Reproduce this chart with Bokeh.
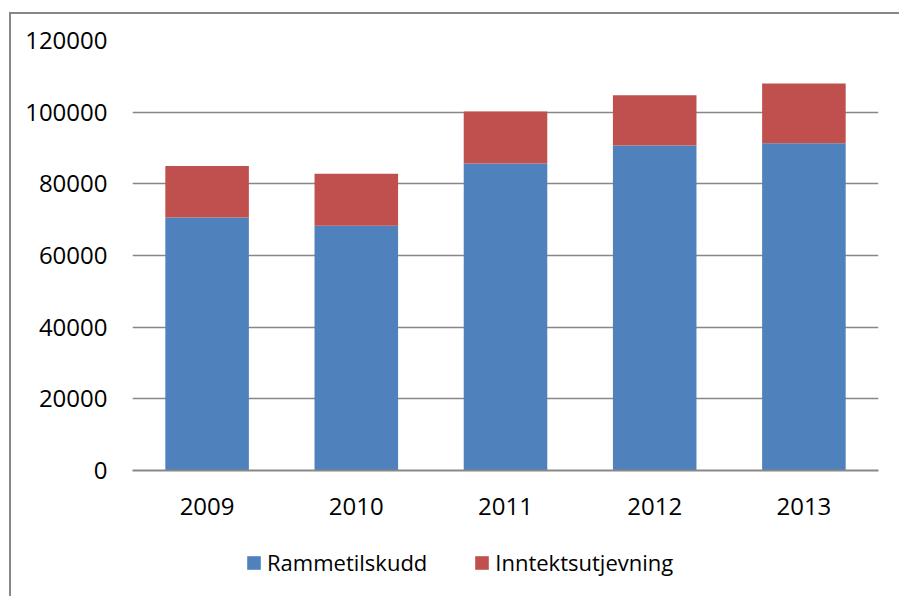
from bokeh.plotting import figure
from bokeh.layouts import column
from bokeh.models import FixedTicker, Legend, LegendItem, NumeralTickFormatter, ColumnDataSource
from bokeh.embed import file_html
from bokeh.resources import INLINE

years = ["2009", "2010", "2011", "2012", "2013"]
rammetilskudd = [70600, 68300, 85700, 90700, 91300]
inntektsutjevning = [14400, 14500, 14500, 14000, 16700]
y_ticks = [0, 20000, 40000, 60000, 80000, 100000, 120000]
series = ["Rammetilskudd", "Inntektsutjevning"]
colors = ["#4F81BD", "#C0504D"]

FONT = "Open Sans"
GRID = "#878787"

source = ColumnDataSource({"years": years, "Rammetilskudd": rammetilskudd,
                           "Inntektsutjevning": inntektsutjevning})

p = figure(
    x_range=years, y_range=(0, 120000),
    frame_width=746, frame_height=430,
    min_border_left=132, min_border_right=21, min_border_top=40, min_border_bottom=62,
    output_backend="svg", toolbar_location=None,
)
p.outline_line_color = None
p.background_fill_color = "white"
p.border_fill_alpha = 0

p.vbar_stack(series, x="years", width=0.56, color=colors, source=source, line_width=0)

p.x_range.range_padding = 0
p.xgrid.grid_line_color = None
p.ygrid.grid_line_color = GRID
p.ygrid.grid_line_width = 1.5
p.yaxis.ticker = FixedTicker(ticks=y_ticks)
p.yaxis.formatter = NumeralTickFormatter(format="0")
p.yaxis.axis_line_color = None
p.yaxis.major_tick_line_color = None
p.yaxis.minor_tick_line_color = None
p.yaxis.major_tick_out = 0
p.yaxis.major_label_standoff = 25
p.yaxis.major_label_text_font = FONT
p.yaxis.major_label_text_font_size = "24px"
p.yaxis.major_label_text_color = "black"

p.xaxis.axis_line_color = GRID
p.xaxis.axis_line_width = 2
p.xaxis.major_tick_line_color = None
p.xaxis.minor_tick_line_color = None
p.xaxis.major_tick_out = 0
p.xaxis.major_label_standoff = 27
p.xaxis.major_label_text_font = FONT
p.xaxis.major_label_text_font_size = "24px"
p.xaxis.major_label_text_color = "black"

# legend strip below the chart; its renderers only feed the legend swatches
q = figure(
    x_range=(0, 1), y_range=(1e6, 2e6),
    frame_width=899, frame_height=64,
    min_border_left=0, min_border_right=0, min_border_top=0, min_border_bottom=0,
    x_axis_type=None, y_axis_type=None,
    output_backend="svg", toolbar_location=None,
)
q.outline_line_color = None
q.background_fill_alpha = 0
q.border_fill_alpha = 0
q.xgrid.grid_line_color = None
q.ygrid.grid_line_color = None
lr = q.vbar_stack(series, x="years", width=0.56, color=colors, source=source, line_width=0)

legend = Legend(
    items=[LegendItem(label=series[0], renderers=[lr[0]]),
           LegendItem(label=series[1], renderers=[lr[1]])],
    orientation="horizontal", location=(245, 19),
    padding=0, margin=0, spacing=46, label_standoff=5,
    glyph_width=17, glyph_height=17,
    label_text_font=FONT, label_text_font_size="22px", label_text_color="black",
    border_line_color=None, background_fill_alpha=0,
)
q.add_layout(legend, "center")

layout = column(p, q, spacing=0)
layout.styles = {"box-shadow": "inset 9px 12px 0 0 white, inset 11px 14px 0 0 #878787"}

open("out.html", "w").write(file_html(layout, INLINE))
